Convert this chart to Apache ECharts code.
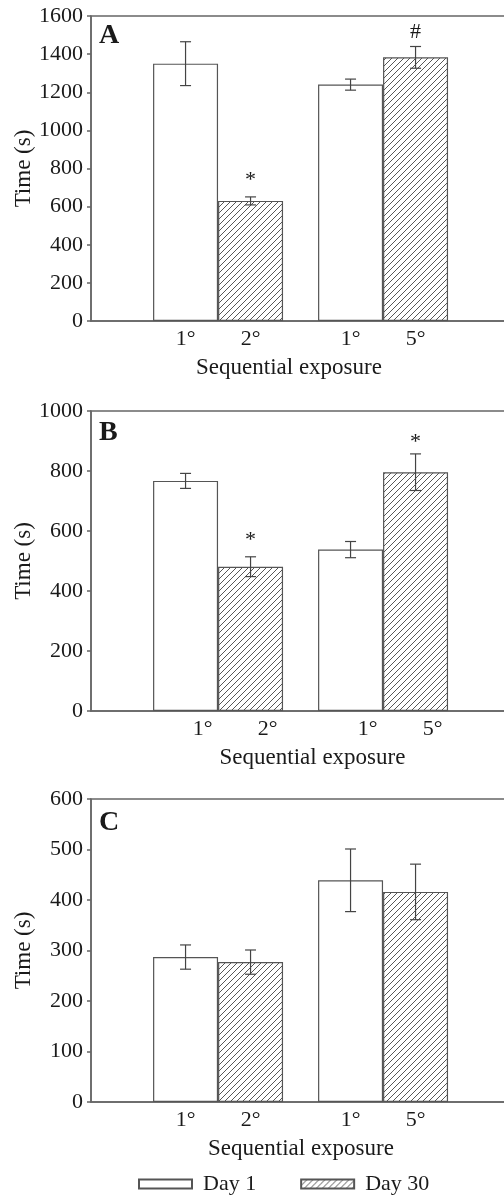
<!DOCTYPE html>
<html><head><meta charset="utf-8">
<script src="https://cdn.jsdelivr.net/npm/echarts@6/dist/echarts.min.js"></script>
<style>html,body{margin:0;padding:0;background:#fff}#c{width:504px;height:1197px}</style>
</head><body><div id="c"></div>
<script>
// ---------------- data ----------------
const tickLabels = ['1°', '2°', '1°', '5°'];
const groupPos = [1, 2];
const seriesNames = ['Day 1', 'Day 30'];
const panelLetters = ['A', 'B', 'C'];
const yMax = [1600, 1000, 600];
const yInterval = [200, 200, 100];
const yAxisName = 'Time (s)';
const xAxisName = 'Sequential exposure';

const day1A = [1350, 1240];
const day1AErr = [115, 29];
const day30A = [630, 1383];
const day30AErr = [21, 57];
const day30AMarks = ['*', '#'];

const day1B = [767, 538];
const day1BErr = [25, 27];
const day30B = [481, 796];
const day30BErr = [33, 61];
const day30BMarks = ['*', '*'];

const day1C = [287, 439];
const day1CErr = [24, 62];
const day30C = [277, 416];
const day30CErr = [24, 55];
const day30CMarks = ['', ''];

const noMarks = ['', ''];

// ---------------- style / layout ----------------
const FONT = "'Liberation Serif', 'Times New Roman', serif";
const AXIS_COLOR = '#666';
const TEXT_COLOR = '#1a1a1a';
const BAR_W = 65;
const CAP = 5.5;
const grids = [
  { top: 16, height: 305 },
  { top: 411, height: 300 },
  { top: 799, height: 303 }
];
const letterTops = [22, 419, 809];
const labelOffsetX = [0, 17, 0];
const namePadding = [[0, 33, 0, 0], [0, 0, 0, 14], [0, 9, 0, 0]];
const markGap = [[5, 2], [5, 0], [0, 0]];

function hatchCanvas() {
  const s = 6;
  const c = document.createElement('canvas');
  c.width = s; c.height = s;
  const g = c.getContext('2d');
  g.fillStyle = '#fff';
  g.fillRect(0, 0, s, s);
  g.strokeStyle = '#444';
  g.lineWidth = 0.9;
  g.beginPath();
  g.moveTo(0, s); g.lineTo(s, 0);
  g.moveTo(-1, 1); g.lineTo(1, -1);
  g.moveTo(s - 1, s + 1); g.lineTo(s + 1, s - 1);
  g.stroke();
  return c;
}
const hatch = { image: hatchCanvas(), repeat: 'repeat' };

const panels = [
  { d1: day1A, e1: day1AErr, d30: day30A, e30: day30AErr, m30: day30AMarks },
  { d1: day1B, e1: day1BErr, d30: day30B, e30: day30BErr, m30: day30BMarks },
  { d1: day1C, e1: day1CErr, d30: day30C, e30: day30CErr, m30: day30CMarks }
];

const option = {
  animation: false,
  backgroundColor: '#fff',
  title: panelLetters.map((t, p) => ({
    text: t, left: 99, top: letterTops[p], padding: 0,
    textStyle: { fontFamily: FONT, fontSize: 28, fontWeight: 'bold', color: TEXT_COLOR }
  })),
  legend: {
    data: seriesNames,
    left: 138, top: 1173, padding: 0,
    itemWidth: 53, itemHeight: 9, itemGap: 44,
    icon: 'rect',
    selectedMode: false,
    textStyle: { fontFamily: FONT, fontSize: 22, color: TEXT_COLOR, padding: [0, 0, 0, 6] }
  },
  grid: grids.map(g => ({
    left: 91, right: -16, top: g.top, height: g.height,
    show: true, borderColor: AXIS_COLOR, borderWidth: 1.5, backgroundColor: 'transparent',
    containLabel: false, outerBoundsMode: 'none'
  })),
  xAxis: grids.map((g, p) => ({
    gridIndex: p, type: 'value', min: 0.23, max: 2.83,
    axisLine: { show: true, onZero: false, lineStyle: { color: AXIS_COLOR, width: 1.5 } },
    axisTick: { show: false }, axisLabel: { show: false }, splitLine: { show: false },
    name: xAxisName, nameLocation: 'middle', nameGap: 35, nameMoveOverlap: false,
    nameTextStyle: { fontFamily: FONT, fontSize: 23, color: TEXT_COLOR, padding: namePadding[p] }
  })),
  yAxis: grids.map((g, p) => ({
    gridIndex: p, type: 'value', min: 0, max: yMax[p], interval: yInterval[p],
    name: yAxisName, nameLocation: 'middle', nameGap: 56, nameMoveOverlap: false,
    nameTextStyle: { fontFamily: FONT, fontSize: 23, color: TEXT_COLOR },
    axisLine: { show: true, lineStyle: { color: AXIS_COLOR, width: 1.5 } },
    axisTick: { show: true, inside: false, length: 4, lineStyle: { color: AXIS_COLOR, width: 1.5 } },
    axisLabel: { fontFamily: FONT, fontSize: 22, color: TEXT_COLOR, margin: 8,
      formatter: v => String(v) },
    splitLine: { show: false }
  })),
  series: []
};

function errSeries(p, vals, errs, marks, gaps, side) {
  return {
    type: 'custom', name: 'err' + p + side, xAxisIndex: p, yAxisIndex: p, z: 5, silent: true,
    data: groupPos.map((g, i) => [g, vals[i], errs[i]]),
    encode: { x: 0, y: 1 },
    renderItem: function (params, api) {
      const x = api.value(0), v = api.value(1), e = api.value(2);
      const top = api.coord([x, v + e]);
      const bot = api.coord([x, v - e]);
      const cx = top[0] + side * BAR_W / 2;
      const ls = { stroke: '#444', lineWidth: 1.2 };
      const children = [
        { type: 'line', shape: { x1: cx, y1: top[1], x2: cx, y2: bot[1] }, style: ls },
        { type: 'line', shape: { x1: cx - CAP, y1: top[1], x2: cx + CAP, y2: top[1] }, style: ls },
        { type: 'line', shape: { x1: cx - CAP, y1: bot[1], x2: cx + CAP, y2: bot[1] }, style: ls }
      ];
      const m = marks[params.dataIndex];
      if (m) {
        children.push({ type: 'text', style: {
          text: m, x: cx, y: top[1] - 1 - gaps[params.dataIndex], align: 'center', verticalAlign: 'bottom',
          font: '22px ' + FONT, fill: TEXT_COLOR } });
      }
      return { type: 'group', children: children };
    }
  };
}

panels.forEach((pd, p) => {
  const common = {
    type: 'bar', xAxisIndex: p, yAxisIndex: p, barWidth: BAR_W, barGap: '0%',
    emphasis: { disabled: true }, silent: true
  };
  option.series.push(Object.assign({}, common, {
    name: seriesNames[0],
    data: groupPos.map((g, i) => [g, pd.d1[i]]),
    itemStyle: { color: '#fff', borderColor: '#555', borderWidth: 1.2 },
    label: { show: true, position: 'bottom', distance: 7, offset: [labelOffsetX[p], 0],
      fontFamily: FONT, fontSize: 22, color: TEXT_COLOR,
      formatter: d => tickLabels[d.dataIndex * 2] }
  }));
  option.series.push(Object.assign({}, common, {
    name: seriesNames[1],
    data: groupPos.map((g, i) => [g, pd.d30[i]]),
    itemStyle: { color: hatch, borderColor: '#555', borderWidth: 1.2 },
    label: { show: true, position: 'bottom', distance: 7, offset: [labelOffsetX[p], 0],
      fontFamily: FONT, fontSize: 22, color: TEXT_COLOR,
      formatter: d => tickLabels[d.dataIndex * 2 + 1] }
  }));
  option.series.push(errSeries(p, pd.d1, pd.e1, noMarks, [0, 0], -1));
  option.series.push(errSeries(p, pd.d30, pd.e30, pd.m30, markGap[p], 1));
});

const chart = echarts.init(document.getElementById('c'), null, { renderer: 'canvas' });
chart.setOption(option);
</script>
</body></html>
